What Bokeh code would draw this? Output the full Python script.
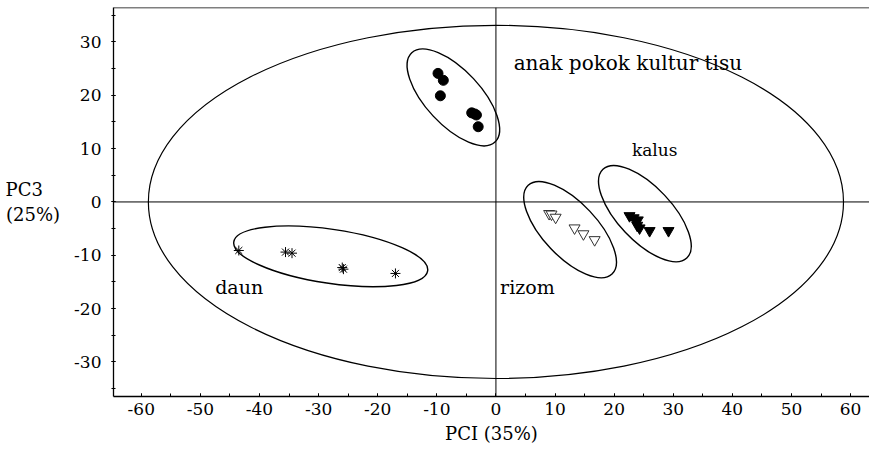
from bokeh.plotting import figure
from bokeh.models import Span, SingleIntervalTicker, Range1d, CustomJSTickFormatter
from bokeh.core.properties import value
from bokeh.embed import file_html
from bokeh.resources import INLINE

# --- data: PCA scores (PC1, PC3) ---
anak_x = [-9.8, -8.9, -9.4, -4.1, -3.6, -3.3, -3.0]
anak_y = [24.1, 22.8, 19.9, 16.7, 16.5, 16.3, 14.1]
daun_x = [-43.5, -35.6, -34.5, -26.0, -25.8, -17.0]
daun_y = [-9.1, -9.4, -9.6, -12.3, -12.6, -13.4]
rizom_x = [9.0, 9.4, 10.1, 13.3, 14.8, 16.7]
rizom_y = [-2.2, -2.3, -2.9, -4.9, -6.0, -7.1]
kalus_x = [22.6, 24.0, 23.9, 24.3, 26.0, 29.2, 23.3]
kalus_y = [-2.6, -3.4, -4.4, -4.9, -5.4, -5.4, -3.0]

# group confidence ellipses: centre (data), full axes (px), angle (deg)
grp_cx = [-7.2, -27.95, 12.55, 25.2]
grp_cy = [19.6, -10.2, -5.2, -2.2]
grp_w = [122, 196, 122, 122]
grp_h = [55, 54, 54, 54]
grp_ang = [-47, -8.5, -46.6, -46.6]

# Hotelling ellipse (data units)
hot_w = 117.6
hot_h = 66.2

# labels
lab_text = ["anak pokok kultur tisu", "kalus", "daun", "rizom"]
lab_x = [3.0, 23.0, -47.5, 0.7]
lab_y = [26.0, 9.8, -16.0, -16.0]
lab_size = ["20px", "17px", "19px", "19px"]

FONT = "DejaVu Serif"

p = figure(width=869, height=459, output_backend="svg", toolbar_location=None,
           x_range=Range1d(-64.7, 63.2), y_range=Range1d(-36.47, 36.45),
           min_border_left=113, min_border_right=0, min_border_top=7,
           min_border_bottom=63)
p.outline_line_color = None
p.xgrid.visible = False
p.ygrid.visible = False

fmt = CustomJSTickFormatter(code="return tick.toFixed(0);")
p.xaxis.ticker = SingleIntervalTicker(interval=10, num_minor_ticks=2)
p.yaxis.ticker = SingleIntervalTicker(interval=10, num_minor_ticks=2)
for ax in (p.xaxis, p.yaxis):
    ax.formatter = fmt
    ax.axis_line_color = "black"
    ax.axis_line_width = 1.3
    ax.major_tick_line_color = "black"
    ax.minor_tick_line_color = "black"
    ax.major_label_text_font = FONT
    ax.major_label_text_font_size = "17px"
    ax.major_label_text_color = "black"
    ax.axis_label_text_font = FONT
    ax.axis_label_text_font_size = "18px"
    ax.axis_label_text_font_style = "normal"
    ax.axis_label_text_color = "black"

p.xaxis.major_tick_in = 3
p.xaxis.major_tick_out = 0
p.xaxis.minor_tick_in = 3
p.xaxis.minor_tick_out = 0
p.xaxis.major_label_standoff = 6
p.xaxis.axis_label = "PCI (35%)"
p.xaxis.axis_label_standoff = 5

p.yaxis.major_tick_in = 2
p.yaxis.major_tick_out = 2
p.yaxis.minor_tick_in = 2
p.yaxis.minor_tick_out = 2
p.yaxis.major_label_standoff = 10
p.yaxis.axis_label = "PC3\u00a0\u00a0\u00a0\n(25%)"
p.yaxis.axis_label_orientation = "horizontal"
p.yaxis.axis_label_standoff = 11

# frame top line and origin lines
p.add_layout(Span(location=36.45, dimension="width", line_color="black", line_width=1.3))
p.add_layout(Span(location=0, dimension="width", line_color="black", line_width=1))
p.add_layout(Span(location=0, dimension="height", line_color="black", line_width=1))

# Hotelling ellipse
p.ellipse(x=[0], y=[0], width=[hot_w], height=[hot_h], fill_color=None,
          line_color="black", line_width=1.2)

# group ellipses
p.ellipse(x=grp_cx, y=grp_cy, width=grp_w, height=grp_h, angle=grp_ang,
          angle_units="deg", width_units="screen", height_units="screen",
          fill_color=None, line_color="black", line_width=1.4)

# points
p.scatter(anak_x, anak_y, marker="circle", size=10, fill_color="black", line_color="black")
p.scatter(daun_x, daun_y, marker="asterisk", size=10, line_color="black", line_width=1)
p.scatter(rizom_x, rizom_y, marker="inverted_triangle", size=11, fill_color="white",
          line_color="#333333", line_width=1)
p.scatter(kalus_x, kalus_y, marker="inverted_triangle", size=11, fill_color="black",
          line_color="black")

for t, x, y, s in zip(lab_text, lab_x, lab_y, lab_size):
    p.text(x=[x], y=[y], text=[t], text_font=value(FONT), text_font_size=s,
           text_align="left", text_baseline="middle", text_color="black")

open("out.html", "w").write(file_html(p, INLINE))
